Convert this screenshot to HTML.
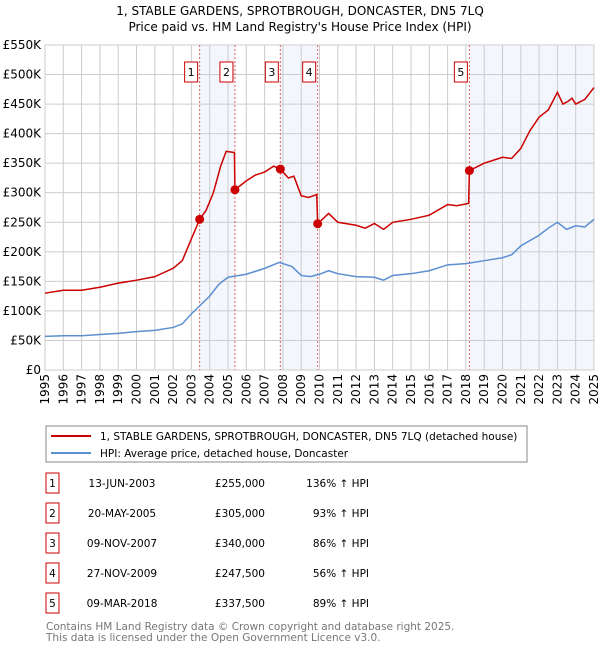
<!DOCTYPE html>
<html><head><meta charset="utf-8"><style>
body{margin:0;background:#fff;font-family:"Liberation Sans","DejaVu Sans",sans-serif;}
svg text{font-family:"DejaVu Sans","Liberation Sans",sans-serif;}
</style></head><body>
<svg id="c" width="600" height="650" viewBox="0 0 600 650" xmlns="http://www.w3.org/2000/svg">
<text x="300" y="15" text-anchor="middle" font-size="12">1, STABLE GARDENS, SPROTBROUGH, DONCASTER, DN5 7LQ</text>
<text x="300" y="31" text-anchor="middle" font-size="12">Price paid vs. HM Land Registry's House Price Index (HPI)</text>
<g id="plot"></g>
<rect x="46" y="426" width="481" height="36" fill="#fff" stroke="#888"/>
<line x1="51" y1="436" x2="91" y2="436" stroke="#cc0000" stroke-width="2"/>
<text x="100" y="440" font-size="10.5">1, STABLE GARDENS, SPROTBROUGH, DONCASTER, DN5 7LQ (detached house)</text>
<line x1="51" y1="453" x2="91" y2="453" stroke="#5b8fd0" stroke-width="2"/>
<text x="100" y="457" font-size="10.5">HPI: Average price, detached house, Doncaster</text>
<g id="tbl"></g>
<text x="46" y="630" font-size="10.5" fill="#777">Contains HM Land Registry data © Crown copyright and database right 2025.</text>
<text x="46" y="641" font-size="10.5" fill="#777">This data is licensed under the Open Government Licence v3.0.</text>
</svg>
<script>
const hpiYears=[1995,1996,1997,1998,1999,2000,2001,2002,2002.5,2003,2003.5,2004,2004.5,2005,2006,2007,2007.8,2008.5,2009,2009.5,2010,2010.5,2011,2012,2013,2013.5,2014,2015,2016,2017,2018,2019,2020,2020.5,2021,2022,2022.5,2023,2023.5,2024,2024.5,2025];
const hpiValues=[57,58,58,60,62,65,67,72,78,95,110,125,145,157,162,172,182,175,160,158,162,168,163,158,157,152,160,163,168,178,180,185,190,195,210,228,240,250,238,244,242,255];
const propYears=[1995,1996,1997,1998,1999,2000,2001,2001.5,2002,2002.5,2003,2003.45,2003.8,2004.2,2004.6,2004.9,2005.35,2005.38,2006,2006.5,2007,2007.5,2007.86,2008.3,2008.6,2009,2009.4,2009.85,2009.9,2010.5,2011,2012,2012.5,2013,2013.5,2014,2015,2016,2017,2017.5,2018.15,2018.19,2019,2019.5,2020,2020.5,2021,2021.5,2022,2022.5,2023,2023.3,2023.6,2023.8,2024,2024.5,2025];
const propValues=[130,135,135,140,147,152,158,165,172,185,222,255,270,300,345,370,368,305,320,330,335,345,340,325,328,295,292,297,247.5,265,250,245,240,248,238,250,255,262,280,278,282,337.5,350,355,360,358,375,405,428,440,470,450,455,460,450,458,478];
const saleLabels=["1","2","3","4","5"];
const saleYears=[2003.45,2005.38,2007.86,2009.9,2018.19];
const saleValues=[255,305,340,247.5,337.5];
const saleDates=["13-JUN-2003","20-MAY-2005","09-NOV-2007","27-NOV-2009","09-MAR-2018"];
const salePrices=["£255,000","£305,000","£340,000","£247,500","£337,500"];
const salePct=["136% ↑ HPI","93% ↑ HPI","86% ↑ HPI","56% ↑ HPI","89% ↑ HPI"];
const yTicks=[0,50,100,150,200,250,300,350,400,450,500,550];
const yTickLabels=["£0","£50K","£100K","£150K","£200K","£250K","£300K","£350K","£400K","£450K","£500K","£550K"];
const xTicks=[1995,1996,1997,1998,1999,2000,2001,2002,2003,2004,2005,2006,2007,2008,2009,2010,2011,2012,2013,2014,2015,2016,2017,2018,2019,2020,2021,2022,2023,2024,2025];

const NS="http://www.w3.org/2000/svg";
const L=45,R=594,T=45,B=370;
const X=y=>L+(y-1995)/30*(R-L);
const Y=v=>B-v/550*(B-T);
const g=document.getElementById('plot');
function mk(tag,attrs,parent){const e=document.createElementNS(NS,tag);for(const k in attrs)e.setAttribute(k,attrs[k]);(parent||g).appendChild(e);return e;}
const bands=[[0,1],[2,3],[4,null]];
bands.forEach((b,i)=>{const x1=X(saleYears[b[0]]),x2=b[1]==null?R:X(saleYears[b[1]]);
 const r=mk('rect',{x:x1,y:T,width:x2-x1,height:B-T,fill:'#eef3fc',opacity:0.7});
 
 });
yTicks.forEach((v,i)=>{const l=mk('line',{x1:L,x2:R,y1:Y(v),y2:Y(v),stroke:'#ccc','stroke-width':1});
 
 
 const t=mk('text',{x:L-4,y:Y(v)+4,'text-anchor':'end','font-size':12});t.textContent=yTickLabels[i];
 
 });
xTicks.forEach(yr=>{const l=mk('line',{x1:X(yr),x2:X(yr),y1:T,y2:B,stroke:'#ccc','stroke-width':1});
 
 
 const t=mk('text',{x:0,y:0,'text-anchor':'end','font-size':12,transform:`translate(${X(yr)+4},374) rotate(-90)`});t.textContent=yr;
 
 });
mk('rect',{x:L,y:T,width:R-L,height:B-T,fill:'none',stroke:'#ccc'});
saleYears.forEach((yr,i)=>{const l=mk('line',{x1:X(yr),x2:X(yr),y1:T,y2:B,stroke:'#e06060','stroke-width':1,'stroke-dasharray':'2,2'});
 
 
 const bx=mk('rect',{x:X(yr)-15,y:62,width:13,height:20,fill:'#fff',stroke:'#cc0000'});
 
 
 const t=mk('text',{x:X(yr)-8.5,y:76,'text-anchor':'middle','font-size':11});t.textContent=saleLabels[i];
 
 });
const hp=mk('polyline',{points:hpiYears.map((y,i)=>X(y)+','+Y(hpiValues[i])).join(' '),fill:'none',stroke:'#5b8fd0','stroke-width':1.5});


const pp=mk('polyline',{points:propYears.map((y,i)=>X(y)+','+Y(propValues[i])).join(' '),fill:'none',stroke:'#cc0000','stroke-width':1.5});


saleYears.forEach((yr,i)=>{const c=mk('circle',{cx:X(yr),cy:Y(saleValues[i]),r:4.5,fill:'#cc0000'});
 
 });
const tb=document.getElementById('tbl');
saleLabels.forEach((s,i)=>{const y=483+i*30;
 const r=mk('rect',{x:46,y:y-10,width:13,height:20,fill:'#fff',stroke:'#cc0000'},tb);
 
 
 const cells=[[52.5,'middle',s,'table-row-number'],[122,'middle',saleDates[i],'table-row-date'],[265,'end',salePrices[i],'table-row-price'],[369,'end',salePct[i],'table-row-hpi-change']];
 cells.forEach(c=>{const t=mk('text',{x:c[0],y:y+4,'text-anchor':c[1],'font-size':10.5},tb);t.textContent=c[2];
  
  });});
</script>
</body></html>
